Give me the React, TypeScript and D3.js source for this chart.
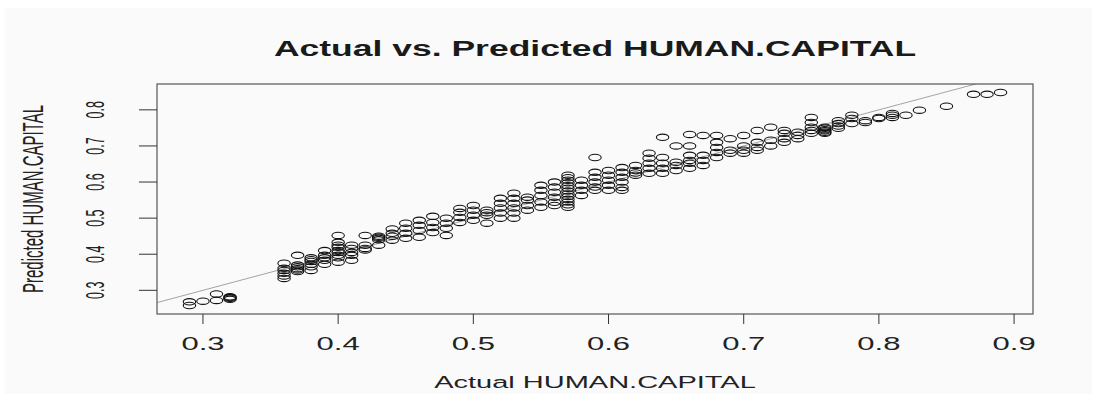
import React from 'react';
import * as d3 from 'd3';

const actualLevels = [
  0.29, 0.30, 0.31, 0.32, 0.36, 0.37, 0.38, 0.39, 0.40, 0.41, 0.42, 0.43, 0.44, 0.45,
  0.46, 0.47, 0.48, 0.49, 0.50, 0.51, 0.52, 0.53, 0.54, 0.55, 0.56, 0.57, 0.58, 0.59,
  0.60, 0.61, 0.62, 0.63, 0.64, 0.65, 0.66, 0.67, 0.68, 0.69, 0.70, 0.71, 0.72, 0.73,
  0.74, 0.75, 0.76, 0.77, 0.78, 0.79, 0.80, 0.81, 0.82, 0.83, 0.85, 0.87, 0.88, 0.89,
];

const predictedByLevel = [
  [0.258, 0.268],
  [0.27],
  [0.272, 0.29],
  [0.275, 0.278, 0.28, 0.282],
  [0.333, 0.34, 0.347, 0.355, 0.361, 0.375],
  [0.352, 0.356, 0.36, 0.365, 0.37, 0.397],
  [0.355, 0.365, 0.372, 0.38, 0.385, 0.39],
  [0.372, 0.383, 0.39, 0.397, 0.41],
  [0.378, 0.39, 0.397, 0.405, 0.41, 0.419, 0.425, 0.433, 0.452],
  [0.383, 0.397, 0.405, 0.416, 0.425],
  [0.412, 0.416, 0.425, 0.452],
  [0.425, 0.44, 0.444, 0.447, 0.45],
  [0.439, 0.45, 0.458, 0.47],
  [0.444, 0.458, 0.472, 0.486],
  [0.447, 0.466, 0.48, 0.494],
  [0.46, 0.474, 0.488, 0.505],
  [0.452, 0.472, 0.486, 0.5],
  [0.488, 0.502, 0.516, 0.527],
  [0.494, 0.508, 0.522, 0.535],
  [0.486, 0.508, 0.515, 0.522],
  [0.5, 0.514, 0.528, 0.541, 0.555],
  [0.5, 0.514, 0.528, 0.541, 0.555, 0.569],
  [0.522, 0.535, 0.55, 0.558],
  [0.53, 0.545, 0.563, 0.577, 0.591],
  [0.535, 0.544, 0.558, 0.572, 0.586, 0.6],
  [0.53, 0.537, 0.545, 0.552, 0.56, 0.567, 0.575, 0.583, 0.59, 0.598, 0.605, 0.612, 0.619],
  [0.563, 0.577, 0.591, 0.605],
  [0.577, 0.586, 0.6, 0.613, 0.627, 0.668],
  [0.577, 0.591, 0.605, 0.619, 0.632],
  [0.577, 0.585, 0.6, 0.613, 0.627, 0.64],
  [0.619, 0.625, 0.632, 0.646],
  [0.624, 0.638, 0.652, 0.666, 0.68],
  [0.624, 0.638, 0.652, 0.668, 0.724],
  [0.632, 0.646, 0.655, 0.7],
  [0.638, 0.652, 0.66, 0.674, 0.7, 0.732],
  [0.646, 0.66, 0.674, 0.729],
  [0.668, 0.682, 0.696, 0.71, 0.729],
  [0.68, 0.688, 0.72],
  [0.68, 0.688, 0.7, 0.729],
  [0.688, 0.696, 0.71, 0.743],
  [0.7, 0.716, 0.752],
  [0.71, 0.72, 0.735, 0.743],
  [0.72, 0.729, 0.738],
  [0.735, 0.743, 0.752, 0.765, 0.779],
  [0.735, 0.738, 0.742, 0.745, 0.749, 0.752],
  [0.749, 0.755, 0.762, 0.77],
  [0.762, 0.776, 0.785],
  [0.765, 0.77],
  [0.776, 0.779],
  [0.779, 0.785, 0.79],
  [0.785],
  [0.799],
  [0.81],
  [0.843],
  [0.843],
  [0.848],
];

const xTicks = [0.3, 0.4, 0.5, 0.6, 0.7, 0.8, 0.9];
const yTicks = [0.3, 0.4, 0.5, 0.6, 0.7, 0.8];

const title = 'Actual vs. Predicted HUMAN.CAPITAL';
const xLabel = 'Actual HUMAN.CAPITAL';
const yLabel = 'Predicted HUMAN.CAPITAL';

const font = '"Liberation Sans", Arial, sans-serif';

const App = () => {
  const width = 1097;
  const height = 399;
  const box = { left: 157, right: 1033, top: 84, bottom: 314 };

  const points = actualLevels.flatMap((a, i) => predictedByLevel[i].map((p) => ({ a, p })));

  // R style axis range: data extent widened by 4% each side
  const pad = (ext) => {
    const d = (ext[1] - ext[0]) * 0.04;
    return [ext[0] - d, ext[1] + d];
  };
  const xDom = pad(d3.extent(points, (d) => d.a));
  const yDom = pad(d3.extent(points, (d) => d.p));

  const x = d3.scaleLinear().domain(xDom).range([box.left, box.right]);
  const y = d3.scaleLinear().domain(yDom).range([box.bottom, box.top]);

  const lo = Math.min(xDom[0], yDom[0]);
  const hi = Math.max(xDom[1], yDom[1]);
  const diag = d3.line()([
    [x(lo), y(lo)],
    [x(hi), y(hi)],
  ]);

  // the picture is squashed vertically, so text is drawn flattened
  const squash = 'scale(1,0.6)';
  const squashRot = 'scale(1,0.5)';

  return (
    <svg
      width={width}
      height={height}
      style={{ position: 'absolute', left: 0, top: 0, display: 'block' }}
    >
      <rect x={0} y={0} width={width} height={height} fill="#ffffff" />
      <rect x={5} y={8} width={width - 10} height={height - 13} fill="#fafafa" />
      <defs>
        <clipPath id="plotClip">
          <rect x={box.left} y={box.top} width={box.right - box.left} height={box.bottom - box.top} />
        </clipPath>
      </defs>

      <text
        transform={`translate(${(box.left + box.right) / 2},56) ${squash}`}
        textAnchor="middle"
        fontFamily={font}
        fontWeight="bold"
        fontSize={35.5}
        fill="#1a1a1a"
      >
        {title}
      </text>

      <path d={diag} stroke="#9a9a9a" strokeWidth={0.9} fill="none" clipPath="url(#plotClip)" />

      <g fill="none" stroke="#111" strokeWidth={1.1}>
        {points.map((d, i) => (
          <ellipse key={i} cx={x(d.a)} cy={y(d.p)} rx={6.2} ry={3.2} />
        ))}
      </g>

      <rect
        x={box.left}
        y={box.top}
        width={box.right - box.left}
        height={box.bottom - box.top}
        fill="none"
        stroke="#555"
        strokeWidth={1.2}
      />

      <g stroke="#333" strokeWidth={1}>
        {xTicks.map((t) => (
          <line key={t} x1={x(t)} x2={x(t)} y1={box.bottom} y2={box.bottom + 10} />
        ))}
        {yTicks.map((t) => (
          <line key={t} x1={box.left - 18} x2={box.left} y1={y(t)} y2={y(t)} />
        ))}
      </g>

      <g fontFamily={font} fill="#222">
        {xTicks.map((t) => (
          <text key={t} transform={`translate(${x(t)},350) ${squash}`} textAnchor="middle" fontSize={31}>
            {t.toFixed(1)}
          </text>
        ))}
        {yTicks.map((t) => (
          <text
            key={t}
            transform={`translate(104,${y(t)}) ${squashRot} rotate(-90)`}
            textAnchor="middle"
            fontSize={25}
          >
            {t.toFixed(1)}
          </text>
        ))}
        <text
          transform={`translate(${(box.left + box.right) / 2},388) ${squash}`}
          textAnchor="middle"
          fontSize={29}
        >
          {xLabel}
        </text>
        <text
          transform={`translate(43,${(box.top + box.bottom) / 2}) ${squashRot} rotate(-90)`}
          textAnchor="middle"
          fontSize={30}
        >
          {yLabel}
        </text>
      </g>
    </svg>
  );
};

export default App;
